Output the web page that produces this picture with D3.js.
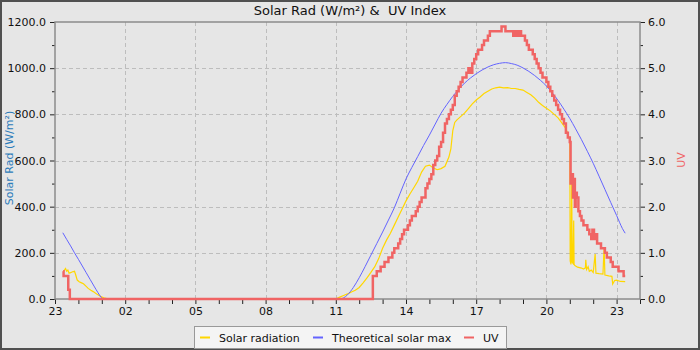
<!DOCTYPE html>
<html>
<head>
<meta charset="utf-8">
<script src="https://cdn.jsdelivr.net/npm/d3@7"></script>
<style>
body { margin: 0; background: #e6e6e6; }
text { font-family: "DejaVu Sans", sans-serif; }
</style>
</head>
<body>
<div id="chart"></div>
<script>
const width = 700;
const height = 350;

// solar radiation (W/m²)
const solarTimes = ["23:21","23:24","23:27","23:30","23:33","23:36","23:40","23:45","23:50","23:53","23:57","00:02","00:08","00:13","00:20","00:25","00:32","00:38","00:45","00:55","01:05","01:13","01:20",
	"11:00","11:10","11:20","11:30","11:40","11:50","12:00","12:10","12:20","12:30","12:40","12:50","13:00","13:10","13:20","13:30","13:40","13:50","14:00","14:10","14:20","14:30","14:40","14:50","15:00","15:10","15:20","15:30","15:40","15:50","15:55","16:00","16:05","16:10","16:20","16:30","16:40","16:50","17:00","17:10","17:20","17:30","17:40","17:50","18:00","18:10","18:20","18:30","18:40","18:50","19:00","19:10","19:20","19:30","19:40","19:50","20:00","20:10","20:20","20:30","20:40","20:50","21:00",
	"21:01","21:03","21:05","21:06","21:08","21:10","21:11","21:13","21:20","21:30","21:35","21:40","21:41","21:43","21:47","21:50","21:55","22:00","22:05","22:07","22:15","22:25","22:28","22:30","22:40","22:48","22:50","22:55","23:00","23:10","23:22"];
const solarVals = [118,125,132,120,125,112,114,118,120,105,82,75,70,66,55,46,38,32,24,13,5,2,0,
	0,8,15,22,30,38,50,70,92,115,140,175,220,255,285,320,355,390,425,455,482,510,550,575,580,568,560,565,575,615,650,730,765,775,790,805,825,845,862,875,890,900,910,915,918,915,916,912,912,908,905,895,885,870,852,838,826,815,800,785,762,738,690,
	165,150,500,160,155,340,150,145,138,134,130,135,170,128,140,120,125,115,195,112,110,108,225,104,100,98,65,80,82,76,75];

// theoretical solar max (W/m²)
const maxTimes = ["23:20","23:30","23:40","23:50","00:00","00:10","00:20","00:30","00:40","00:50","00:58","01:05",
	"11:10","11:20","11:30","11:45","12:00","12:15","12:30","12:45","13:00","13:15","13:30","13:45","14:00","14:15","14:30","14:45","15:00","15:15","15:30","15:45","16:00","16:15","16:30","16:45","17:00","17:15","17:30","17:45","18:00","18:15","18:30","18:45","19:00","19:15","19:30","19:45","20:00","20:15","20:30","20:45","21:00","21:15","21:30","21:45","22:00","22:15","22:30","22:45","23:00","23:15","23:22"];
const maxVals = [287,258,230,200,172,143,114,85,56,28,8,0,
	0,5,18,50,92,140,190,240,290,342,395,458,520,570,617,665,710,758,805,843,878,908,935,957,976,992,1005,1015,1021,1024,1020,1013,1001,986,968,947,923,893,860,822,782,737,690,640,588,532,475,418,362,305,285];

// UV index
const uvTimes = ["23:21","23:22","23:34","23:38","12:30","12:35","12:45","12:55","13:05","13:15","13:25","13:30","13:40","13:45","13:50","13:55","14:05","14:10","14:15","14:25","14:30","14:35","14:40","14:50","14:55","15:00","15:05","15:10","15:15","15:20","15:25","15:30","15:35","15:40","15:45","15:50","15:55","16:00","16:05","16:10","16:15","16:20","16:25","16:35","16:40","16:45","16:50","16:55","17:00","17:05","17:15","17:20","17:30","17:35","18:05","18:15","18:35","18:40","18:45","18:50","18:55","19:05","19:10","19:15","19:25","19:30","19:35","19:40","19:45","19:50","20:00","20:05","20:10","20:15","20:20","20:25","20:30","20:35","20:40","20:45","20:50","20:55","21:00",
	"21:02","21:05","21:08","21:10","21:13","21:15","21:18","21:22","21:26","21:30","21:35","21:45","21:50","21:55","21:58","22:02","22:05","22:10","22:20","22:30","22:35","22:45","22:50","23:05","23:18","23:22"];
const uvVals = [0.6,0.5,0.2,0.0,0.0,0.5,0.6,0.7,0.8,0.9,1.0,1.1,1.2,1.3,1.4,1.5,1.6,1.7,1.8,1.9,2.0,2.1,2.2,2.4,2.5,2.6,2.7,2.9,3.0,3.1,3.3,3.4,3.6,3.8,3.9,4.0,4.1,4.2,4.4,4.5,4.6,4.7,4.8,4.9,5.0,4.9,5.1,5.2,5.3,5.4,5.5,5.6,5.7,5.8,5.9,5.8,5.7,5.8,5.7,5.8,5.7,5.6,5.5,5.4,5.3,5.2,5.1,5.0,4.9,4.8,4.7,4.6,4.5,4.4,4.3,4.2,4.1,4.0,3.9,3.8,3.6,3.5,3.4,
	2.5,2.7,2.2,2.6,2.0,2.3,2.2,1.9,1.8,1.7,1.6,1.5,1.4,1.3,1.5,1.3,1.4,1.2,1.1,1.0,0.9,0.8,0.7,0.6,0.5,0.5];

const yTicks = [0, 200, 400, 600, 800, 1000, 1200];
const uvTicks = [0, 1, 2, 3, 4, 5, 6];

// times run over midnight: bump the day whenever the clock goes backwards
function toDates(times) {
	let day = 1, prev = -1;
	return times.map((t) => {
		const [h, m] = t.split(":").map(Number);
		const mins = h * 60 + m;
		if (mins < prev) day++;
		prev = mins;
		return new Date(2024, 0, day, h, m);
	});
}

const solar = toDates(solarTimes).map((d, i) => ({ t: d, v: solarVals[i] }));
const theo = toDates(maxTimes).map((d, i) => ({ t: d, v: maxVals[i] }));
const uv = toDates(uvTimes).map((d, i) => ({ t: d, v: uvVals[i] }));

const L = 55, R = 640, T = 22, B = 299;

const svg = d3
	.select("#chart")
	.append("svg")
	.attr("width", width)
	.attr("height", height);

svg.append("rect")
	.attr("x", 0).attr("y", 0)
	.attr("width", width).attr("height", height)
	.attr("fill", "#e6e6e6")
	.attr("stroke", "#505050")
	.attr("stroke-width", 4);

const x = d3.scaleTime()
	.domain([new Date(2024, 0, 1, 23, 0), new Date(2024, 0, 3, 0, 0)])
	.range([L, R]);
const y = d3.scaleLinear().domain([0, 1200]).range([B, T]);
const yUV = d3.scaleLinear().domain([0, 6]).range([B, T]);

const hours = x.ticks(d3.timeHour.every(1));
const labelled = hours.filter((d) => d.getHours() % 3 === 2);

// grid
const grid = svg.append("g")
	.attr("stroke", "#bdbdbd")
	.attr("stroke-dasharray", "4,3")
	.attr("stroke-width", 1);
grid.selectAll(".gx")
	.data(labelled.filter((d) => x(d) > L + 1))
	.join("line")
	.attr("x1", (d) => Math.round(x(d)) + 0.5)
	.attr("x2", (d) => Math.round(x(d)) + 0.5)
	.attr("y1", T).attr("y2", B);
grid.selectAll(".gy")
	.data(yTicks.filter((d) => d > 0 && d < 1200))
	.join("line")
	.attr("x1", L).attr("x2", R)
	.attr("y1", (d) => Math.round(y(d)) + 0.5)
	.attr("y2", (d) => Math.round(y(d)) + 0.5);

// axes
const xAxis = svg.append("g")
	.attr("transform", `translate(0,${B})`)
	.call(d3.axisBottom(x)
		.tickValues(hours)
		.tickSize(5)
		.tickPadding(3)
		.tickFormat((d) => (d.getHours() % 3 === 2 ? d3.timeFormat("%H")(d) : "")));

const yAxis = svg.append("g")
	.attr("transform", `translate(${L},0)`)
	.call(d3.axisLeft(y).tickValues(yTicks).tickSize(5).tickPadding(4).tickFormat(d3.format(".1f")));
svg.append("g")
	.attr("transform", `translate(${L},0)`)
	.call(d3.axisLeft(y).tickValues(d3.range(100, 1200, 200)).tickSize(3).tickFormat(""));

const uvAxis = svg.append("g")
	.attr("transform", `translate(${R},0)`)
	.call(d3.axisRight(yUV).tickValues(uvTicks).tickSize(5).tickPadding(3).tickFormat(d3.format(".1f")));
svg.append("g")
	.attr("transform", `translate(${R},0)`)
	.call(d3.axisRight(yUV).tickValues(d3.range(0.5, 6, 1)).tickSize(3).tickFormat(""));

svg.selectAll(".domain").remove();
svg.selectAll(".tick line").attr("stroke", "#222");
svg.selectAll(".tick text").attr("font-size", 11).attr("fill", "#111");

// plot frame
svg.append("rect")
	.attr("x", L).attr("y", T)
	.attr("width", R - L).attr("height", B - T)
	.attr("fill", "none")
	.attr("stroke", "#8c8c8c")
	.attr("stroke-width", 1.5);

// series
const solarLine = d3.line().x((d) => x(d.t)).y((d) => y(d.v));
const theoLine = d3.line().x((d) => x(d.t)).y((d) => y(d.v)).curve(d3.curveMonotoneX);
const uvLine = d3.line().x((d) => x(d.t)).y((d) => yUV(d.v)).curve(d3.curveStepAfter);

svg.append("path")
	.datum(solar)
	.attr("d", solarLine)
	.attr("fill", "none")
	.attr("stroke", "#ffd700")
	.attr("stroke-width", 1.2);

svg.append("path")
	.datum(theo)
	.attr("d", theoLine)
	.attr("fill", "none")
	.attr("stroke", "#6464ff")
	.attr("stroke-width", 1);

svg.append("path")
	.datum(uv)
	.attr("d", uvLine)
	.attr("fill", "none")
	.attr("stroke", "#f06464")
	.attr("stroke-width", 2.5);

// titles
svg.append("text")
	.attr("x", 350).attr("y", 15)
	.attr("text-anchor", "middle")
	.attr("font-size", 13)
	.attr("fill", "#111")
	.style("white-space", "pre")
	.text("Solar Rad (W/m²) &  UV Index");

svg.append("text")
	.attr("transform", "translate(13,158) rotate(-90)")
	.attr("text-anchor", "middle")
	.attr("font-size", 11)
	.attr("fill", "#2b7bba")
	.text("Solar Rad (W/m²)");

svg.append("text")
	.attr("transform", "translate(685,160) rotate(-90)")
	.attr("text-anchor", "middle")
	.attr("font-size", 11)
	.attr("fill", "#f06464")
	.text("UV");

// legend
const legendItems = [
	{ name: "Solar radiation", color: "#ffd700", x: 200 },
	{ name: "Theoretical solar max", color: "#6464ff", x: 313 },
	{ name: "UV", color: "#f06464", x: 464 },
];
svg.append("rect")
	.attr("x", 194.5).attr("y", 326.5)
	.attr("width", 312).attr("height", 22)
	.attr("fill", "#f4f4f4")
	.attr("stroke", "#999");
const leg = svg.selectAll(".leg").data(legendItems).join("g");
leg.append("line")
	.attr("x1", (d) => d.x).attr("x2", (d) => d.x + 10)
	.attr("y1", 337.5).attr("y2", 337.5)
	.attr("stroke", (d) => d.color)
	.attr("stroke-width", 2);
leg.append("text")
	.attr("x", (d) => d.x + 19).attr("y", 341.5)
	.attr("font-size", 11)
	.attr("fill", "#111")
	.text((d) => d.name);
</script>
</body>
</html>
